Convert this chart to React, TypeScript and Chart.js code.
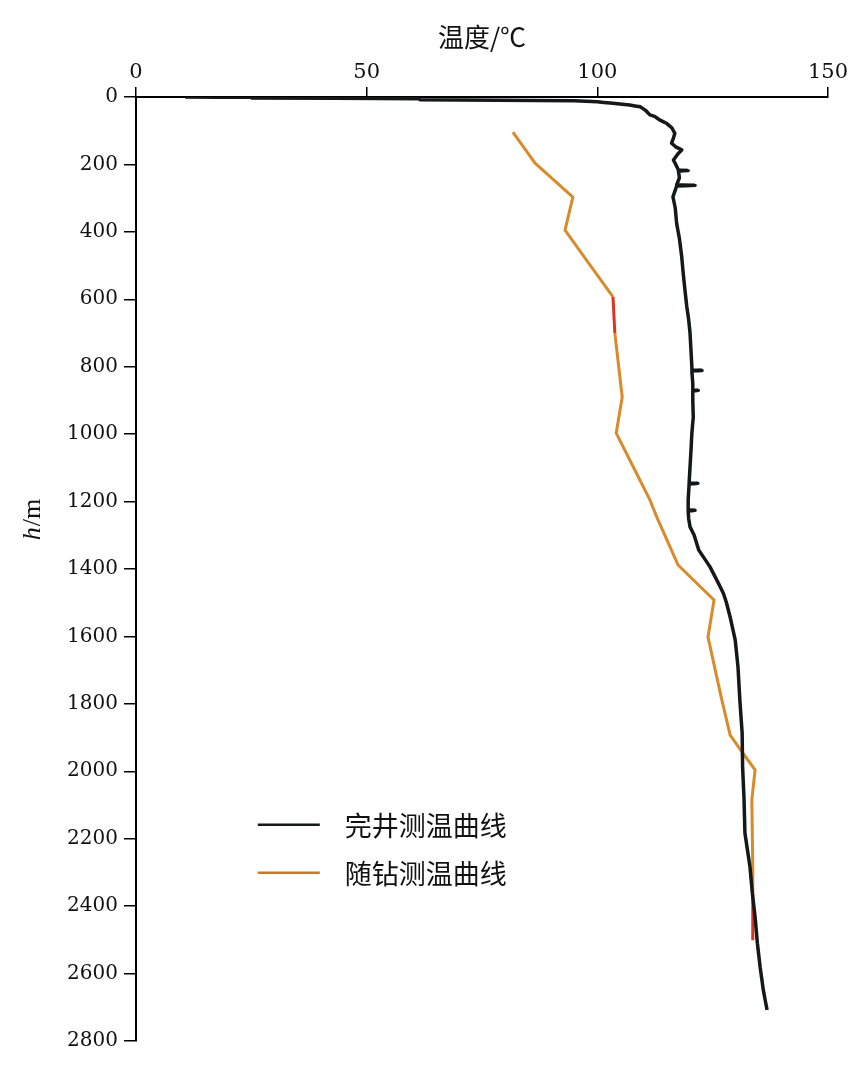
import { useEffect, useRef } from 'react';
import { Chart, registerables } from 'chart.js';

Chart.register(...registerables);

// 完井测温曲线: depth (m) and temperature (℃)
const wellDepth = [
  0, 1, 3, 5, 8, 11, 14, 18, 24, 29, 40, 53, 58, 68, 78, 92, 108, 122, 137, 148,
  157, 170, 187, 200, 217, 218, 220, 240, 261, 262, 264, 280, 296, 330, 375, 420,
  474, 520, 573, 622, 660, 700, 750, 801, 810, 811, 813, 850, 869, 870, 872, 899,
  950, 997, 1050, 1098, 1145, 1146, 1148, 1195, 1225, 1226, 1228, 1250, 1275, 1300,
  1344, 1393, 1430, 1471, 1500, 1543, 1611, 1691, 1789, 1887, 1988, 2080, 2183,
  2284, 2360, 2432, 2510, 2581, 2650, 2708,
];
const wellTemp = [
  10.7, 25.0, 25.1, 61.3, 61.5, 95, 100, 102.8, 107, 109.3, 110.5, 111.4, 112.5, 113.5,
  115, 116.2, 116.8, 116.5, 116.1, 117, 118.3, 117.4, 116.5, 117, 117.6, 119.7, 117.6,
  117.8, 117.2, 121.2, 117.2, 116.8, 116.4, 116.9, 117.2, 117.8, 118.3, 118.6, 119.0,
  119.4, 119.8, 120.1, 120.3, 120.5, 120.5, 122.7, 120.5, 120.7, 120.7, 121.9, 120.7,
  120.7, 120.8, 120.5, 120.3, 120.1, 119.9, 121.8, 119.9, 119.7, 119.7, 121.2, 119.7,
  119.8, 120.1, 121, 122, 124.4, 125.8, 127.3, 128, 128.8, 129.9, 130.5, 130.9, 131.4,
  131.5, 131.8, 132.0, 133.1, 133.6, 134.2, 134.7, 135.3, 136.0, 136.8,
];

// 随钻测温曲线: depth (m) and temperature (℃)
const drillDepth = [
  104, 196, 297, 395, 593, 700, 890, 997, 1195, 1246, 1388, 1492, 1602, 1789, 1893,
  1943, 1996, 2085, 2284, 2362, 2501,
];
const drillTemp = [
  81.7, 86.5, 94.7, 93.0, 103.4, 103.8, 105.4, 104.1, 111.4, 112.9, 117.5, 125.3, 124.0,
  127.0, 128.8, 131.4, 134.2, 133.5, 133.7, 133.7, 133.7,
];
// depths at which a reddish segment of the drilling curve starts
const drillRedSegmentStarts = [593, 2362];

const seriesNames = ['完井测温曲线', '随钻测温曲线'];
const xTitle = '温度/℃';
const yTitleItalic = 'h';
const yTitleRest = '/m';
const tempMin = 0;
const tempMax = 150;
const tempStep = 50;
const depthMin = 0;
const depthMax = 2800;
const depthStep = 200;

const CJK = '"Noto Sans CJK SC", "Noto Sans", sans-serif';
const SERIF = '"DejaVu Serif", "Liberation Serif", serif';

const textPlugin = {
  id: 'customText',
  afterDraw(chart: any) {
    const { ctx, chartArea } = chart;
    const w = chartArea.right - chartArea.left;
    const h = chartArea.bottom - chartArea.top;

    // y axis title: italic h + /m
    ctx.save();
    ctx.translate(33, chartArea.top + h * 0.448);
    ctx.rotate(-Math.PI / 2);
    ctx.textBaseline = 'middle';
    ctx.textAlign = 'left';
    ctx.fillStyle = '#111';
    const fi = 'italic 26px "Liberation Serif", serif';
    const fn = '26px "Liberation Serif", serif';
    ctx.font = fi;
    const w1 = ctx.measureText(yTitleItalic).width;
    ctx.font = fn;
    const w2 = ctx.measureText(yTitleRest).width;
    const start = -(w1 + w2) / 2;
    ctx.font = fi;
    ctx.fillText(yTitleItalic, start, 0);
    ctx.font = fn;
    ctx.fillText(yTitleRest, start + w1 + 1, 0);
    ctx.restore();

    // legend
    ctx.save();
    const lx = chartArea.left + w * 0.176;
    const ly = chartArea.top + h * 0.771;
    chart.data.datasets.forEach((ds: any, i: number) => {
      const y = ly + i * 48;
      ctx.strokeStyle = ds.legendColor || ds.borderColor;
      ctx.lineWidth = 2.5;
      ctx.beginPath();
      ctx.moveTo(lx, y);
      ctx.lineTo(lx + 62, y);
      ctx.stroke();
      ctx.fillStyle = '#111';
      ctx.font = `27px ${CJK}`;
      ctx.textAlign = 'left';
      ctx.textBaseline = 'middle';
      ctx.fillText(ds.label, lx + 87, y + 1);
    });
    ctx.restore();
  },
};

export default function App() {
  const canvasRef = useRef<HTMLCanvasElement | null>(null);

  useEffect(() => {
    const canvas = canvasRef.current;
    if (!canvas) return;
    const wellData = wellDepth.map((d, i) => ({ x: wellTemp[i], y: d }));
    const drillData = drillDepth.map((d, i) => ({ x: drillTemp[i], y: d }));

    const chart = new Chart(canvas, {
      type: 'scatter',
      data: {
        datasets: [
          {
            label: seriesNames[0],
            data: wellData,
            showLine: true,
            borderColor: '#141818',
            borderWidth: 3.5,
            borderJoinStyle: 'round',
            pointRadius: 0,
            tension: 0.0001,
          } as any,
          {
            label: seriesNames[1],
            data: drillData,
            showLine: true,
            borderColor: '#d98a2b',
            legendColor: '#c8782f',
            borderWidth: 3,
            borderJoinStyle: 'round',
            pointRadius: 0,
            tension: 0.0001,
            segment: {
              borderColor: (c: any) =>
                drillRedSegmentStarts.includes(c.p0.parsed.y) ? '#e0321e' : undefined,
            },
          } as any,
        ],
      },
      options: {
        animation: false,
        responsive: true,
        maintainAspectRatio: false,
        layout: { padding: { top: 0, left: 0, right: 22, bottom: 43 } },
        plugins: {
          legend: { display: false },
          tooltip: { enabled: false },
          title: { display: false },
        },
        scales: {
          x: {
            type: 'linear',
            position: 'top',
            min: tempMin,
            max: tempMax,
            ticks: {
              stepSize: tempStep,
              color: '#111',
              font: { family: SERIF, size: 21 },
              padding: 2,
              maxRotation: 0,
              callback: (v: any) => String(v),
            },
            grid: {
              drawOnChartArea: false,
              drawTicks: true,
              tickLength: 10,
              color: '#000',
              lineWidth: 1.5,
            },
            border: { display: true, color: '#000', width: 2 },
            title: {
              display: true,
              text: xTitle,
              color: '#111',
              font: { family: CJK, size: 26 },
              padding: { top: 22, bottom: 0 },
            },
            afterFit: (s: any) => {
              s.height = 97;
            },
          },
          y: {
            type: 'linear',
            reverse: true,
            min: depthMin,
            max: depthMax,
            ticks: {
              stepSize: depthStep,
              color: '#111',
              font: { family: SERIF, size: 20 },
              padding: 6,
              callback: (v: any) => String(v),
            },
            grid: {
              drawOnChartArea: false,
              drawTicks: true,
              tickLength: 12,
              color: '#000',
              lineWidth: 1.5,
            },
            border: { display: true, color: '#000', width: 2 },
            afterFit: (s: any) => {
              s.width = 136;
            },
          },
        },
      },
      plugins: [textPlugin],
    });
    return () => chart.destroy();
  }, []);

  return (
    <div
      style={{
        position: 'absolute',
        left: 0,
        top: 0,
        width: 850,
        height: 1084,
        background: '#fff',
      }}
    >
      <canvas ref={canvasRef} />
    </div>
  );
}
